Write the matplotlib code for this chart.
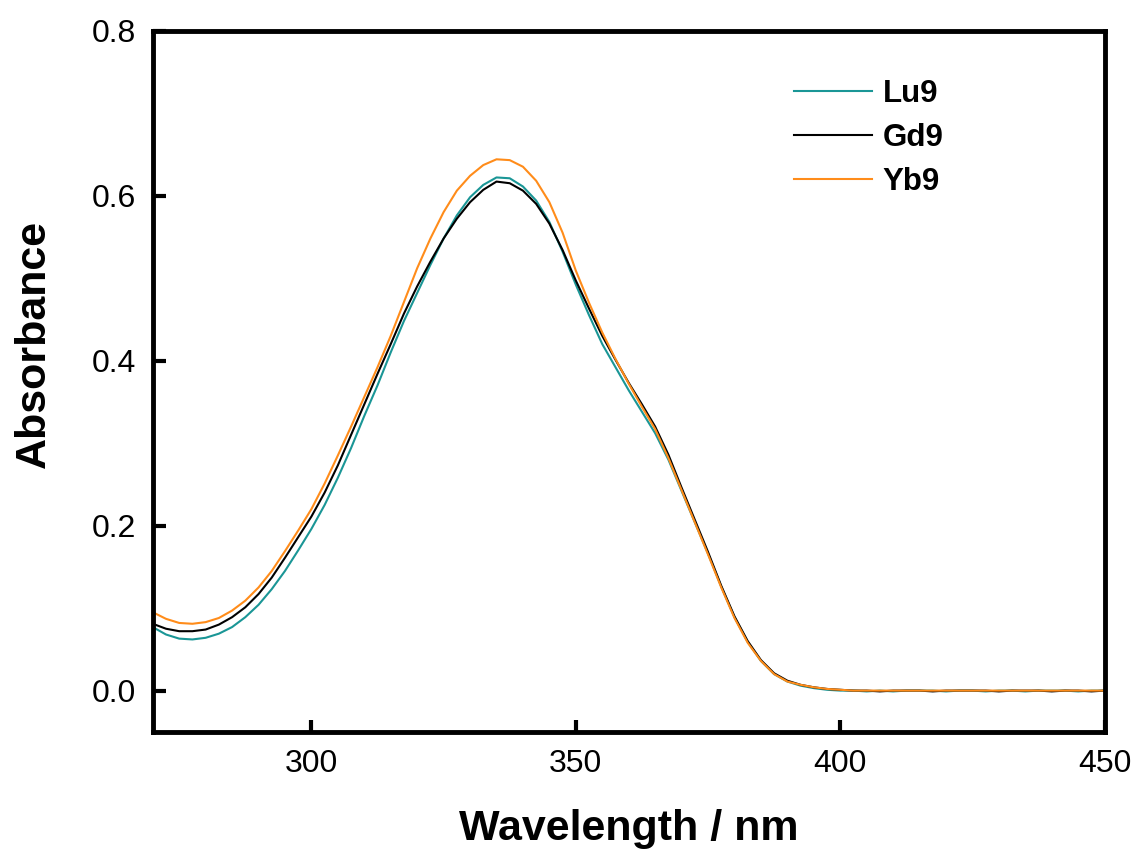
import matplotlib.pyplot as plt
import numpy as np

# UV-vis absorption spectra, read every 2.5 nm from 270 to 450 nm
wavelength = np.arange(270, 450.1, 2.5)

lu9 = [0.077, 0.068, 0.063, 0.062, 0.064, 0.069, 0.077, 0.089, 0.104, 0.123, 0.145, 0.170,
       0.196, 0.225, 0.258, 0.294, 0.333, 0.370, 0.410, 0.448,
       0.482, 0.516, 0.548, 0.576, 0.598, 0.613, 0.622, 0.621,
       0.611, 0.594, 0.568, 0.532,
       0.492, 0.455, 0.420, 0.392, 0.364, 0.338, 0.312, 0.280,
       0.242, 0.204, 0.166, 0.126, 0.089, 0.059, 0.036, 0.020,
       0.011, 0.006, 0.003, 0.001,
       0.000, 0.000, -0.001, 0.000, -0.001, 0.000, 0.000, 0.000, -0.001, 0.000, 0.000,
       -0.001, 0.000, 0.000, -0.001, 0.000, 0.000, 0.000, -0.001, 0.000, 0.000]
gd9 = [0.081, 0.075, 0.072, 0.072, 0.074, 0.080, 0.089, 0.101, 0.117, 0.137, 0.161, 0.186,
       0.211, 0.240, 0.273, 0.310, 0.347, 0.384, 0.420, 0.457,
       0.490, 0.520, 0.548, 0.572, 0.592, 0.607, 0.617, 0.615,
       0.606, 0.590, 0.566, 0.534,
       0.497, 0.463, 0.430, 0.401, 0.373, 0.347, 0.320, 0.286,
       0.246, 0.207, 0.168, 0.127, 0.090, 0.060, 0.037, 0.021,
       0.012, 0.007, 0.004, 0.002,
       0.001, 0.000, 0.000, -0.001, 0.000, 0.000, 0.000, -0.001, 0.000, 0.000, 0.000,
       0.000, -0.001, 0.000, 0.000, 0.000, -0.001, 0.000, 0.000, -0.001, 0.000]
yb9 = [0.095, 0.087, 0.082, 0.081, 0.083, 0.088, 0.097, 0.109, 0.125, 0.145, 0.169, 0.194,
       0.220, 0.251, 0.285, 0.320, 0.356, 0.392, 0.430, 0.471,
       0.512, 0.548, 0.580, 0.606, 0.624, 0.637, 0.644, 0.643,
       0.635, 0.618, 0.592, 0.555,
       0.509, 0.470, 0.434, 0.402, 0.372, 0.344, 0.317, 0.282,
       0.243, 0.204, 0.165, 0.125, 0.088, 0.058, 0.036, 0.020,
       0.011, 0.007, 0.004, 0.002,
       0.001, 0.000, 0.000, 0.000, 0.000, 0.000, 0.000, 0.000, 0.000, 0.000, 0.000,
       0.000, 0.000, 0.000, 0.000, 0.000, 0.000, 0.000, 0.000, 0.000, 0.000]

plt.rcParams['font.family'] = ['Liberation Sans', 'DejaVu Sans']

fig = plt.figure(figsize=(11.4, 8.5), dpi=100)
ax = fig.add_axes([0.134, 0.139, 0.835, 0.825])

ax.plot(wavelength, lu9, color='#1a9696', lw=1.5, label='Lu9')
ax.plot(wavelength, gd9, color='black', lw=1.5, label='Gd9')
ax.plot(wavelength, yb9, color='#ff8c1a', lw=1.5, label='Yb9')

ax.set_xlim(270, 450)
ax.set_ylim(-0.05, 0.8)
ax.set_xticks(np.arange(300, 451, 50))
ax.set_yticks(np.arange(0, 0.81, 0.2))
ax.set_yticklabels(['0.0', '0.2', '0.4', '0.6', '0.8'])

for s in ax.spines.values():
    s.set_linewidth(3.5)
ax.tick_params(direction='in', length=9, width=3, labelsize=23, pad=12)

ax.set_xlabel('Wavelength / nm', fontsize=31, fontweight='bold', labelpad=22)
ax.set_ylabel('Absorbance', fontsize=31, fontweight='bold')
ax.yaxis.set_label_coords(-0.104, 0.553)

leg = ax.legend(loc='upper left', bbox_to_anchor=(0.674, 0.931), frameon=False,
                borderpad=0, borderaxespad=0,
                prop={'size': 22.5, 'weight': 'bold'}, handlelength=2.5,
                handletextpad=0.32, labelspacing=0.45)

fig.savefig('out.png', dpi=100)
